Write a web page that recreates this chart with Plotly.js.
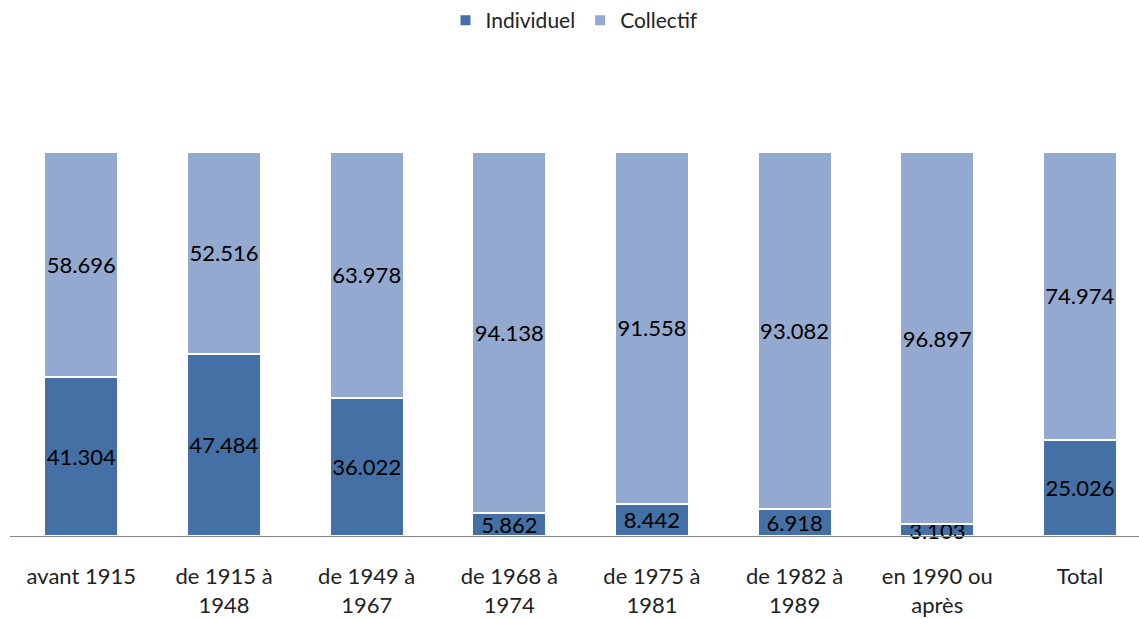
<!DOCTYPE html>
<html>
<head>
<meta charset="utf-8">
<script src="https://cdn.plot.ly/plotly-3.0.1.min.js"></script>
<style>html,body{margin:0;padding:0;background:#fff;}#chart{width:1139px;height:619px;}</style>
</head>
<body>
<div id="chart"></div>
<script>
const categories = ["avant 1915", "de 1915 à<br>1948", "de 1949 à<br>1967", "de 1968 à<br>1974", "de 1975 à<br>1981", "de 1982 à<br>1989", "en 1990 ou<br>après", "Total"];
const individuel = [41.304, 47.484, 36.022, 5.862, 8.442, 6.918, 3.103, 25.026];
const collectif = [58.696, 52.516, 63.978, 94.138, 91.558, 93.082, 96.897, 74.974];
const fmt = v => v.toFixed(3);

const common = {
  type: 'bar',
  x: categories,
  width: 0.52,
  textposition: 'inside',
  insidetextanchor: 'middle',
  textangle: 0,
  constraintext: 'none',
  cliponaxis: false,
  textfont: {family: 'Lato, sans-serif', size: 22, color: '#000'},
  hoverinfo: 'skip'
};
const traces = [
  Object.assign({}, common, {name: 'Individuel', y: individuel, text: individuel.map(fmt),
    marker: {color: '#4470A5', line: {color: '#ffffff', width: 2}}}),
  Object.assign({}, common, {name: 'Collectif', y: collectif, text: collectif.map(fmt),
    marker: {color: '#94A9CF', line: {color: '#ffffff', width: 2}}})
];
const layout = {
  width: 1139, height: 619,
  barmode: 'stack',
  margin: {l: 10, r: 0, t: 152, b: 83},
  paper_bgcolor: '#fff', plot_bgcolor: '#fff',
  font: {family: 'Lato, sans-serif', size: 20, color: '#222'},
  uniformtext: {mode: 'show', minsize: 22},
  showlegend: true,
  legend: {orientation: 'h', x: 0.5, xanchor: 'center', y: 1.397, yanchor: 'top',
    font: {size: 21, color: '#222'}, traceorder: 'normal', itemwidth: 30},
  xaxis: {range: [-0.5, 7.414], showgrid: false, zeroline: false, showline: true,
    linecolor: '#888', linewidth: 1, ticks: 'outside', ticklen: 21, tickcolor: 'rgba(0,0,0,0)',
    tickfont: {size: 22, color: '#222'}, fixedrange: true},
  yaxis: {range: [0, 100], visible: false, fixedrange: true}
};
Plotly.newPlot('chart', traces, layout, {displayModeBar: false, staticPlot: true});
</script>
</body>
</html>
